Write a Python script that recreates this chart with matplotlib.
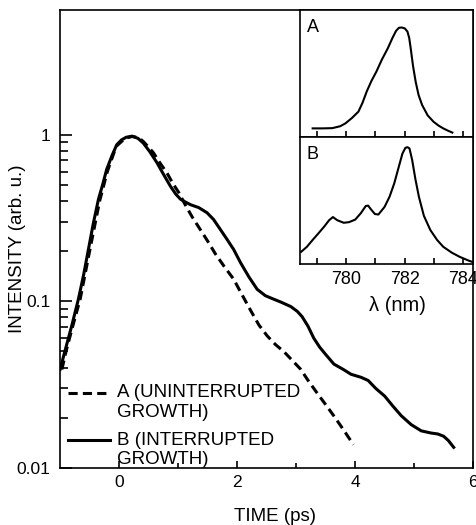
import numpy as np
import matplotlib.pyplot as plt

plt.rcParams['font.family'] = ['Liberation Sans', 'DejaVu Sans']

# decay curves, main panel (time in ps, intensity in arb. u.)
time_a = [-0.97, -0.90, -0.80, -0.66, -0.50, -0.33, -0.20, -0.05, 0.10, 0.22,
          0.33, 0.41, 0.50, 0.58, 0.70, 0.81, 0.91, 1.01, 1.12, 1.24,
          1.38, 1.50, 1.63, 1.78, 1.94, 2.08, 2.23, 2.37, 2.51, 2.65,
          2.79, 2.94, 3.08, 3.19, 3.36, 3.50, 3.64, 3.80, 3.97]
int_a = [0.039, 0.050, 0.068, 0.103, 0.20, 0.40, 0.60, 0.85, 0.95, 0.975,
         0.96, 0.91, 0.84, 0.78, 0.67, 0.59, 0.51, 0.45, 0.38, 0.32,
         0.268, 0.23, 0.193, 0.162, 0.136, 0.11, 0.088, 0.072, 0.062, 0.055,
         0.050, 0.044, 0.039, 0.034, 0.028, 0.024, 0.0205, 0.017, 0.0138]

time_b = [-1.00, -0.92, -0.80, -0.69, -0.60, -0.52, -0.44, -0.35, -0.28, -0.21,
          -0.12, -0.04, 0.04, 0.12, 0.22, 0.32, 0.41, 0.52, 0.64, 0.75,
          0.87, 0.96, 1.04, 1.12, 1.21, 1.35, 1.49, 1.60, 1.70, 1.83,
          1.94, 2.06, 2.20, 2.34, 2.48, 2.62, 2.74, 2.91, 3.02, 3.10,
          3.20, 3.30, 3.40, 3.50, 3.64, 3.80, 3.93, 4.10, 4.22, 4.35,
          4.50, 4.64, 4.78, 4.95, 5.12, 5.29, 5.40, 5.50, 5.58, 5.67]
int_b = [0.039, 0.050, 0.072, 0.103, 0.145, 0.205, 0.29, 0.41, 0.50, 0.62,
         0.75, 0.87, 0.93, 0.965, 0.98, 0.95, 0.89, 0.79, 0.68, 0.58,
         0.49, 0.44, 0.41, 0.395, 0.38, 0.365, 0.34, 0.31, 0.275, 0.235,
         0.205, 0.17, 0.14, 0.118, 0.108, 0.103, 0.099, 0.093, 0.087, 0.081,
         0.071, 0.060, 0.053, 0.048, 0.042, 0.039, 0.0365, 0.035, 0.0335, 0.030,
         0.027, 0.0235, 0.0206, 0.0182, 0.0167, 0.0162, 0.0160, 0.0155, 0.0146, 0.0133]

# emission spectra, inset (wavelength in nm, normalised)
wl_a = [778.86, 779.2, 779.53, 779.8, 779.98, 780.2, 780.42, 780.56, 780.70, 780.86,
        781.03, 781.22, 781.42, 781.58, 781.70, 781.8, 781.9, 782.0, 782.09, 782.15,
        782.2, 782.28, 782.37, 782.47, 782.59, 782.78, 782.98, 783.15, 783.31, 783.47,
        783.62]
spec_a = [0.068, 0.068, 0.070, 0.085, 0.108, 0.15, 0.20, 0.27, 0.357, 0.44,
          0.514, 0.61, 0.698, 0.78, 0.835, 0.86, 0.862, 0.855, 0.83, 0.78,
          0.70, 0.56, 0.435, 0.33, 0.252, 0.17, 0.12, 0.09, 0.068, 0.05,
          0.035]

wl_b = [778.47, 778.66, 778.86, 779.05, 779.25, 779.42, 779.55, 779.7, 779.92, 780.1,
        780.31, 780.5, 780.67, 780.75, 780.85, 780.98, 781.1, 781.31, 781.48, 781.64,
        781.8, 781.92, 782.02, 782.09, 782.16, 782.25, 782.36, 782.48, 782.65, 782.87,
        783.1, 783.31, 783.6, 783.87, 784.2, 784.33]
spec_b = [0.097, 0.135, 0.19, 0.24, 0.294, 0.345, 0.37, 0.345, 0.325, 0.33,
          0.35, 0.40, 0.457, 0.46, 0.43, 0.394, 0.39, 0.45, 0.53, 0.635,
          0.77, 0.87, 0.915, 0.92, 0.91, 0.82, 0.67, 0.53, 0.38, 0.268,
          0.19, 0.136, 0.09, 0.057, 0.025, 0.015]

time_ticks = [0, 2, 4, 6]
time_minor = [1, 3, 5]
int_ticks = [0.01, 0.1, 1]
int_labels = ['0.01', '0.1', '1']
int_minor = [k * 10.0 ** e for e in (-2, -1) for k in range(2, 10)]
wl_ticks = [780, 782, 784]
wl_minor = [779, 781, 783]

fig = plt.figure(figsize=(4.77, 5.25), dpi=100)

# main panel
ax = fig.add_axes([0.126, 0.1086, 0.866, 0.8724])
ax.plot(time_a, int_a, color='black', lw=2.2, linestyle=(0, (3.0, 1.7)))
ax.plot(time_b, int_b, color='black', lw=2.2)
ax.set_yscale('log')
ax.set_xlim(-1, 6)
ax.set_ylim(0.01, 5.6)
ax.set_xticks(time_ticks)
ax.set_xticks(time_minor, minor=True)
ax.set_yticks(int_ticks)
ax.set_yticklabels(int_labels)
ax.set_yticks(int_minor, minor=True)
ax.set_yticklabels([], minor=True)
for s in ax.spines.values():
    s.set_linewidth(1.2)
ax.tick_params(which='both', direction='in', top=False, right=False,
               width=1.2, labelsize=12.5)
ax.tick_params(axis='y', which='major', length=8.5, pad=7)
ax.tick_params(axis='y', which='minor', length=5.8)
ax.tick_params(axis='x', which='major', length=5, pad=5)
ax.tick_params(axis='x', which='minor', length=3.6)
ax.set_xlabel('TIME (ps)', fontsize=13.5)
ax.xaxis.set_label_coords(0.52, -0.088)
ax.set_ylabel('INTENSITY (arb. u.)', fontsize=13.5)
ax.yaxis.set_label_coords(-0.083, 0.478)

# legend drawn by hand
ax.plot([0.019, 0.121], [0.164, 0.164], transform=ax.transAxes,
        color='black', lw=2.2, linestyle=(0, (3.0, 1.7)))
ax.plot([0.019, 0.121], [0.061, 0.061], transform=ax.transAxes,
        color='black', lw=2.2)
ax.text(0.138, 0.164, 'A (UNINTERRUPTED', transform=ax.transAxes,
        va='center', ha='left', fontsize=13.5)
ax.text(0.138, 0.122, 'GROWTH)', transform=ax.transAxes,
        va='center', ha='left', fontsize=13.5)
ax.text(0.138, 0.061, 'B (INTERRUPTED', transform=ax.transAxes,
        va='center', ha='left', fontsize=13.5)
ax.text(0.138, 0.019, 'GROWTH)', transform=ax.transAxes,
        va='center', ha='left', fontsize=13.5)

# inset spectra
axA = fig.add_axes([0.629, 0.739, 0.363, 0.242])
axB = fig.add_axes([0.629, 0.497, 0.363, 0.242])
axA.plot(wl_a, spec_a, color='black', lw=1.5)
axB.plot(wl_b, spec_b, color='black', lw=1.5)
for a, name in ((axA, 'A'), (axB, 'B')):
    a.set_xlim(778.43, 784.33)
    a.set_ylim(0, 1)
    a.set_yticks([])
    a.set_xticks(wl_ticks)
    a.set_xticks(wl_minor, minor=True)
    for s in a.spines.values():
        s.set_linewidth(1.2)
    a.tick_params(which='both', direction='in', length=4.5, width=1.2,
                  labelsize=13, pad=5)
    a.text(0.04, 0.86, name, transform=a.transAxes, ha='left', va='center',
           fontsize=13)
axA.tick_params(labelbottom=False)
axB.set_xlabel('λ (nm)', fontsize=14.5)
axB.xaxis.set_label_coords(0.56, -0.25)

fig.savefig('out.png', dpi=100)
